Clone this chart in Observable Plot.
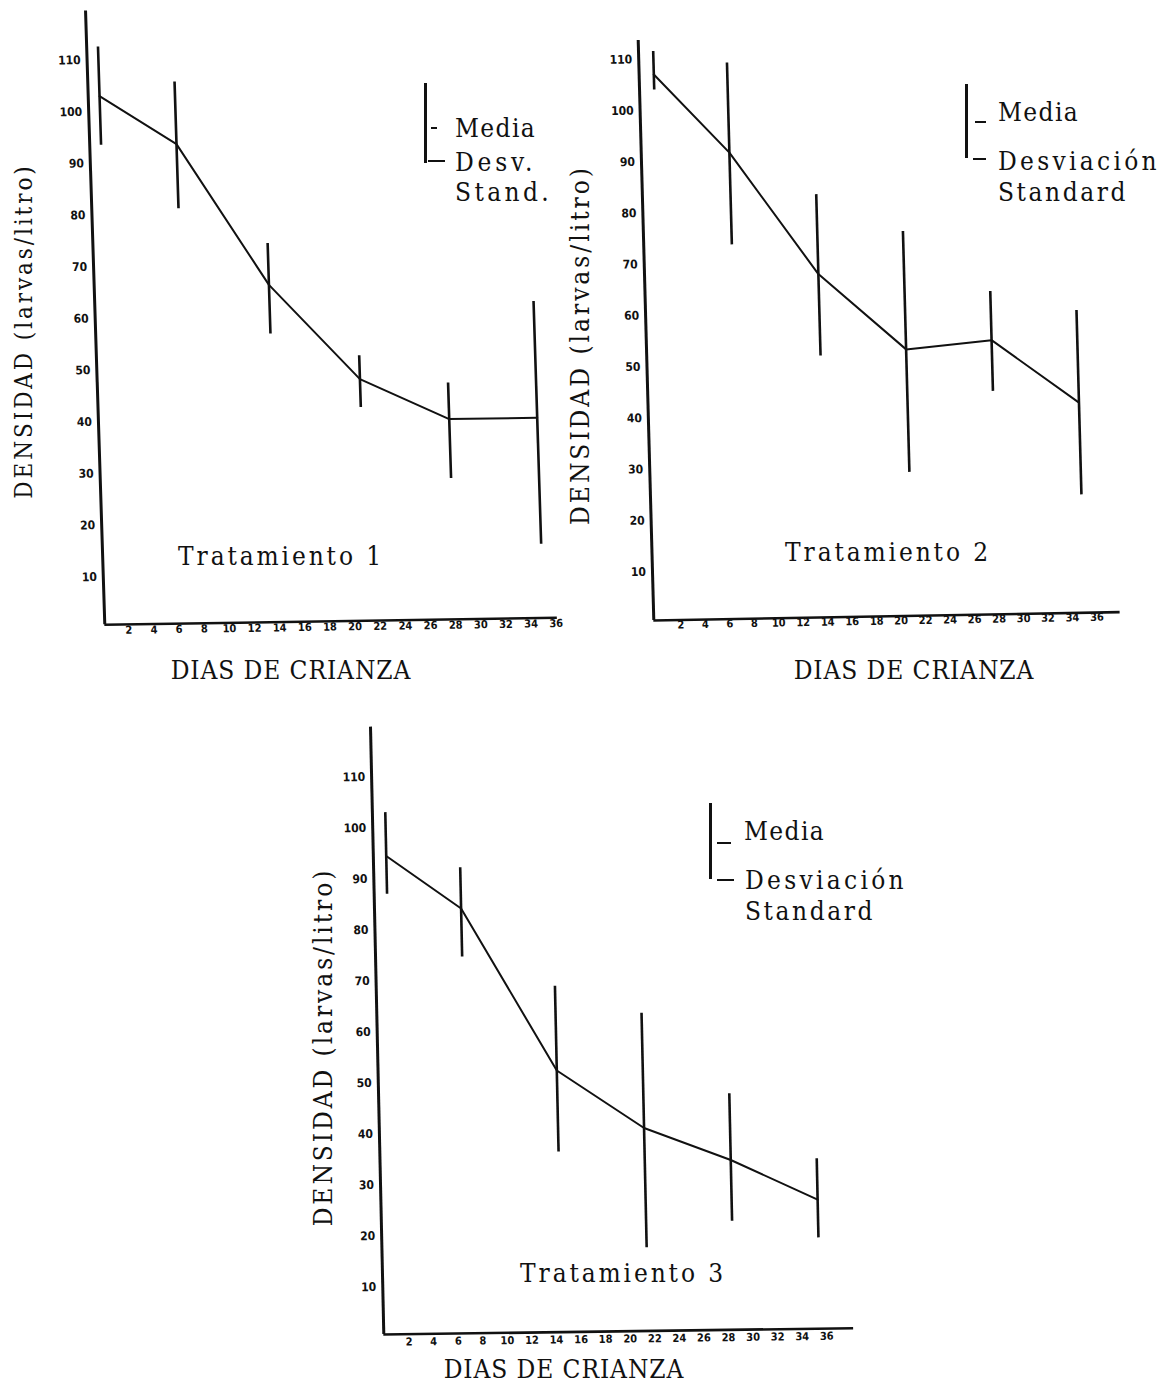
<!DOCTYPE html>
<html><head><meta charset="utf-8">
<script src="https://cdn.jsdelivr.net/npm/d3@7"></script>
<script src="https://cdn.jsdelivr.net/npm/@observablehq/plot@0.6"></script>
<style>
html,body{margin:0;padding:0;background:#fff;}
#root{position:relative;width:1166px;height:1384px;overflow:hidden;background:#fff;font-family:"DejaVu Serif",serif;font-stretch:condensed;color:#111;}
.p{position:absolute;}
.t{position:absolute;white-space:nowrap;font-size:26px;line-height:1;}
.c{transform:translate(-50%,-50%);}
.l{transform:translate(0,-50%);}
.r{transform:translate(-50%,-50%) rotate(-90deg);}
.bar{position:absolute;background:#111;}
</style></head><body><div id="root"></div>
<script>
// ---- data (días de crianza, media, media - desv., media + desv.) ----
const days1 = [1, 7, 14, 21, 28, 35];
const mean1 = [103, 93.5, 66, 47.5, 39.5, 39.5];
const lo1   = [93.5, 81, 56.5, 42, 28, 15];
const hi1   = [112.5, 105.5, 74, 52, 46.5, 62];

const days2 = [1, 7, 14, 21, 28, 35];
const mean2 = [107, 91.5, 67.5, 52.5, 54, 41.5];
const lo2   = [104, 73.5, 51.5, 28.5, 44, 23.5];
const hi2   = [111.5, 109, 83, 75.5, 63.5, 59.5];

const days3 = [1, 7, 14.5, 21.5, 28.5, 35.5];
const mean3 = [94.5, 84, 52, 40.5, 34, 26];
const lo3   = [87, 74.5, 36, 17, 22, 18.5];
const hi3   = [103, 92, 68.5, 63, 47, 34];

const xTicks = [2,4,6,8,10,12,14,16,18,20,22,24,26,28,30,32,34,36];
const yTicks = [10,20,30,40,50,60,70,80,90,100,110];

const panelTitles = ["Tratamiento 1", "Tratamiento 2", "Tratamiento 3"];
const xTitle = "DIAS DE CRIANZA";
const yTitle = "DENSIDAD (larvas/litro)";
const legendMedia = "Media";
const legendSd1 = ["Desv.", "Stand."];
const legendSd = ["Desviación", "Standard"];

// ---- layout ----
const root = document.getElementById("root");

function panel(days, mean, lo, hi, cfg) {
  const pts = days.map((d, i) => ({day: d, mean: mean[i], lo: lo[i], hi: hi[i]}));
  const svg = Plot.plot({
    width: cfg.w, height: cfg.h,
    marginLeft: cfg.ml, marginRight: cfg.mr, marginTop: cfg.mt, marginBottom: cfg.mb,
    x: {domain: cfg.xd},
    y: {domain: cfg.yd},
    style: {background: "transparent", overflow: "visible", fontFamily: "DejaVu Sans, sans-serif", color: "#111"},
    marks: [
      Plot.ruleY([cfg.yd[0]], {x1: cfg.xd[0], x2: cfg.xd[1], stroke: "#111", strokeWidth: 2.6}),
      Plot.ruleX([cfg.xd[0]], {y1: cfg.yd[0], y2: cfg.ytop, stroke: "#111", strokeWidth: 3}),
      Plot.axisY(yTicks, {tickSize: 0, tickPadding: cfg.yp, fontSize: 12, fontWeight: "bold", label: null}),
      Plot.axisX(xTicks, {tickSize: 0, tickPadding: cfg.xp, fontSize: 11, fontWeight: "bold", label: null}),
      Plot.line(pts, {x: "day", y: "mean", stroke: "#111", strokeWidth: 2}),
      Plot.ruleX(pts, {x: "day", y1: "lo", y2: "hi", stroke: "#111", strokeWidth: 2.6})
    ]
  });
  svg.classList.add("p");
  svg.style.left = cfg.left + "px";
  svg.style.top = cfg.top + "px";
  // the scanned figure is slightly sheared: follow its leaning axes
  svg.style.transformOrigin = `${cfg.ml}px ${cfg.h - cfg.mb}px`;
  svg.style.transform = `matrix(1, ${-cfg.tb}, ${cfg.ta}, 1, 0, 0)`;
  root.appendChild(svg);
}

panel(days1, mean1, lo1, hi1, {left: 0, top: 0, w: 580, h: 700, ml: 104.3, mr: 23.2, mt: 8, mb: 75.7,
  xd: [0.1, 36.1], yd: [0.75, 120], ytop: 119.5, yp: 6.5, xp: 1.5, ta: 0.0314, tb: 0.0155});
panel(days2, mean2, lo2, hi2, {left: 583, top: 0, w: 583, h: 700, ml: 70.3, mr: 46.4, mt: 7.7, mb: 80,
  xd: [-0.2, 37.9], yd: [0.5, 120], ytop: 113.7, yp: 6.5, xp: 0.5, ta: 0.0269, tb: 0.018});
panel(days3, mean3, lo3, hi3, {left: 290, top: 700, w: 600, h: 684, ml: 93.3, mr: 36.9, mt: 25.6, mb: 50,
  xd: [-0.05, 38.2], yd: [0.7, 120], ytop: 119.8, yp: 6.5, xp: 3.5, ta: 0.0219, tb: 0.0134});

// typewriter-like text: spread to a fixed advance per character
function text(str, x, y, cls, cell, size) {
  const d = document.createElement("div");
  d.className = "t " + cls;
  d.textContent = str;
  d.style.left = x + "px";
  d.style.top = y + "px";
  if (size) d.style.fontSize = size + "px";
  root.appendChild(d);
  const n = [...str].length;
  const natural = d.offsetWidth;
  const ls = (cell * n - natural) / n;
  d.style.letterSpacing = ls + "px";
}
function bar(x, y, w, h) {
  const d = document.createElement("div");
  d.className = "bar";
  Object.assign(d.style, {left: x + "px", top: y + "px", width: w + "px", height: h + "px"});
  root.appendChild(d);
}

// titles
text(panelTitles[0], 281, 556, "c", 15.8);
text(panelTitles[1], 888, 552, "c", 15.8);
text(panelTitles[2], 623, 1273, "c", 15.8);
text(xTitle, 291, 670, "c", 16.05);
text(xTitle, 914, 670, "c", 16.05);
text(xTitle, 564, 1369, "c", 16.05);
text(yTitle, 24, 331, "r", 14.6, 24);
text(yTitle, 580, 345, "r", 15.65);
text(yTitle, 323, 1047, "r", 15.6);

// legends
bar(424, 83, 3, 80); bar(431, 127, 6, 2); bar(428, 160, 17, 2);
text(legendMedia, 455, 128, "l", 16.2);
text(legendSd1[0], 455, 162, "l", 16.2);
text(legendSd1[1], 455, 192, "l", 16.2);

bar(965, 84, 3, 74); bar(975, 121, 11, 2); bar(973, 158, 13, 2);
text(legendMedia, 998, 112, "l", 16.2);
text(legendSd[0], 998, 161, "l", 16.2);
text(legendSd[1], 998, 192, "l", 16.2);

bar(709, 803, 3, 76); bar(717, 842, 14, 2); bar(717, 879, 17, 2);
text(legendMedia, 744, 831, "l", 16.2);
text(legendSd[0], 745, 880, "l", 16.2);
text(legendSd[1], 745, 911, "l", 16.2);
</script></body></html>
